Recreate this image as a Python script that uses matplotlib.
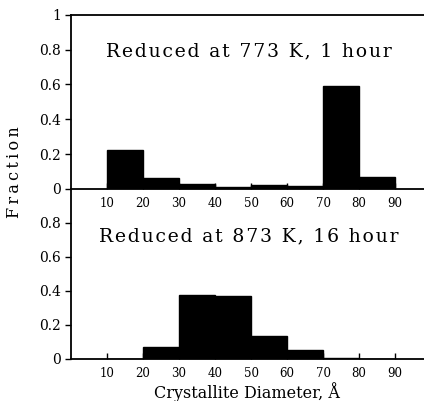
import matplotlib.pyplot as plt

plt.rcParams['font.family'] = 'DejaVu Serif'

# bin left edges (Angstrom) and fraction in each 10 A bin
bins = [10, 20, 30, 40, 50, 60, 70, 80]
frac_773 = [0.225, 0.065, 0.03, 0.01, 0.025, 0.015, 0.59, 0.07]
frac_873 = [0.0, 0.07, 0.378, 0.367, 0.135, 0.053, 0.004, 0.0]

xticks = [10, 20, 30, 40, 50, 60, 70, 80, 90]
titles = ['Reduced at 773 K, 1 hour', 'Reduced at 873 K, 16 hour']


def spaced(s, sep='\u200a'):
    return sep.join(s)


fig = plt.figure(figsize=(4.24, 4.01), dpi=100)
ax1 = fig.add_axes([0.167, 0.529, 0.833, 0.434])
ax2 = fig.add_axes([0.167, 0.105, 0.833, 0.424])
ax2.patch.set_visible(False)
ax1.set_zorder(2)
ax1.patch.set_visible(False)


def style_ax(ax, vals, title, ty, yticks, ylabels):
    ax.bar(bins, vals, width=10, align='edge', color='black', edgecolor='black')
    ax.set_xlim(0, 98)
    ax.set_ylim(0, 1)
    ax.set_xticks(xticks)
    ax.set_xticklabels([str(t) for t in xticks], fontsize=8.5)
    ax.set_yticks(yticks)
    ax.set_yticklabels(ylabels, fontsize=10)
    ax.tick_params(axis='x', direction='in', length=4, width=1, pad=6)
    ax.tick_params(axis='y', direction='out', length=4, width=1, pad=3)
    ax.spines['right'].set_visible(False)
    for s in ax.spines.values():
        s.set_linewidth(1.3)
    ax.text(49.5, ty, spaced(title), ha='center', va='center', fontsize=13.5)


style_ax(ax1, frac_773, titles[0], 0.79,
         [0, 0.2, 0.4, 0.6, 0.8, 1], ['0', '0.2', '0.4', '0.6', '0.8', '1'])
style_ax(ax2, frac_873, titles[1], 0.72,
         [0, 0.2, 0.4, 0.6, 0.8], ['0', '0.2', '0.4', '0.6', '0.8'])
ax2.spines['top'].set_visible(False)

ax2.set_xlabel('Crystallite Diameter, Å', fontsize=11.5, labelpad=1)
fig.text(0.035, 0.571, spaced('Fraction', '\u2009'), rotation=90, ha='center',
         va='center', fontsize=11.5)

fig.savefig('out.png', dpi=100)
